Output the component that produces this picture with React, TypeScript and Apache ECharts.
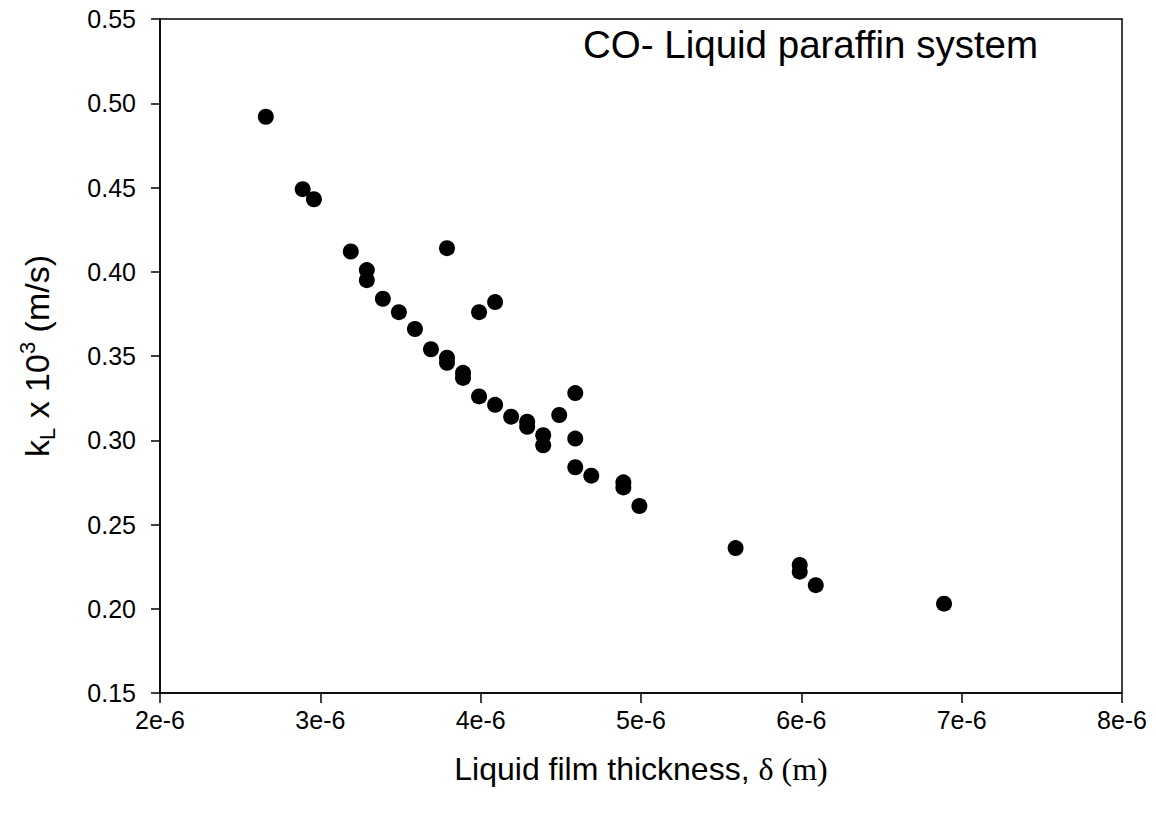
import React, { useEffect, useRef } from "react";
import * as echarts from "echarts";

// Liquid film thickness, in units of 1e-6 m
const filmThickness = [
  2.66, 2.89, 2.96, 3.19, 3.29, 3.29, 3.39, 3.49, 3.59, 3.69,
  3.79, 3.79, 3.79, 3.89, 3.89, 3.99, 4.09, 3.99, 4.09, 4.19,
  4.29, 4.29, 4.39, 4.39, 4.49, 4.59, 4.59, 4.59, 4.69, 4.89,
  4.89, 4.99, 5.59, 5.99, 5.99, 6.09, 6.89,
];
// kL x 10^3 (m/s)
const kL = [
  0.492, 0.449, 0.443, 0.412, 0.401, 0.395, 0.384, 0.376, 0.366, 0.354,
  0.349, 0.346, 0.414, 0.340, 0.337, 0.376, 0.382, 0.326, 0.321, 0.314,
  0.311, 0.308, 0.303, 0.297, 0.315, 0.328, 0.301, 0.284, 0.279, 0.275,
  0.272, 0.261, 0.236, 0.226, 0.222, 0.214, 0.203,
];
const xTicks = { min: 2, max: 8, interval: 1 };
const yTicks = { min: 0.15, max: 0.55, interval: 0.05 };
const title = "CO- Liquid paraffin system";

const FONT = "Arial";
const SERIF = "Times New Roman";

export default function App() {
  const ref = useRef<HTMLDivElement>(null);
  useEffect(() => {
    if (!ref.current) return;
    const chart = echarts.init(ref.current, undefined, { renderer: "svg" });
    const data = filmThickness.map((x, i) => [x, kL[i]]);
    chart.setOption({
      animation: false,
      backgroundColor: "#ffffff",
      grid: {
        left: 160,
        right: 34,
        top: 19,
        bottom: 122,
        show: true,
        borderColor: "#000",
        borderWidth: 1.5,
        containLabel: false,
      },
      graphic: [
        {
          type: "text",
          left: 583,
          top: 25,
          style: {
            text: title,
            fontFamily: FONT,
            fontSize: 38.5,
            fill: "#000",
          },
        },
      ],
      xAxis: {
        type: "value",
        min: xTicks.min,
        max: xTicks.max,
        interval: xTicks.interval,
        splitLine: { show: false },
        axisLine: { show: true, lineStyle: { color: "#000", width: 1.5 } },
        axisTick: { show: true, length: 10, lineStyle: { color: "#000", width: 1.5 } },
        axisLabel: {
          color: "#000",
          fontFamily: FONT,
          fontSize: 25,
          margin: 14,
          formatter: (v: number) => `${Math.round(v)}e-6`,
        },
        name: "{a|Liquid film thickness, }{d|δ (m)}",
        nameLocation: "middle",
        nameGap: 60,
        nameTextStyle: {
          rich: {
            a: { fontFamily: FONT, fontSize: 32, color: "#000" },
            d: { fontFamily: SERIF, fontSize: 32, color: "#000" },
          },
        },
      },
      yAxis: {
        type: "value",
        min: yTicks.min,
        max: yTicks.max,
        interval: yTicks.interval,
        splitLine: { show: false },
        axisLine: { show: true, lineStyle: { color: "#000", width: 1.5 } },
        axisTick: { show: true, length: 9, lineStyle: { color: "#000", width: 1.5 } },
        axisLabel: {
          color: "#000",
          fontFamily: FONT,
          fontSize: 25,
          margin: 24,
          formatter: (v: number) => v.toFixed(2),
        },
        name: "{a|k}{sub|L}{a| x 10}{sup|3}{a| (m/s)}",
        nameLocation: "middle",
        nameRotate: 90,
        nameGap: 102,
        nameTextStyle: {
          rich: {
            a: { fontFamily: FONT, fontSize: 34, color: "#000", lineHeight: 42, verticalAlign: "middle" },
            sub: { fontFamily: FONT, fontSize: 22, color: "#000", lineHeight: 42, verticalAlign: "bottom" },
            sup: { fontFamily: FONT, fontSize: 22, color: "#000", lineHeight: 42, verticalAlign: "top" },
          },
        },
      },
      series: [
        {
          type: "scatter",
          data,
          symbol: "circle",
          symbolSize: 16,
          itemStyle: { color: "#000", opacity: 1 },
        },
      ],
    });
    return () => chart.dispose();
  }, []);
  return (
    <div
      ref={ref}
      style={{ position: "fixed", left: 0, top: 0, width: 1156, height: 815, background: "#fff" }}
    />
  );
}
